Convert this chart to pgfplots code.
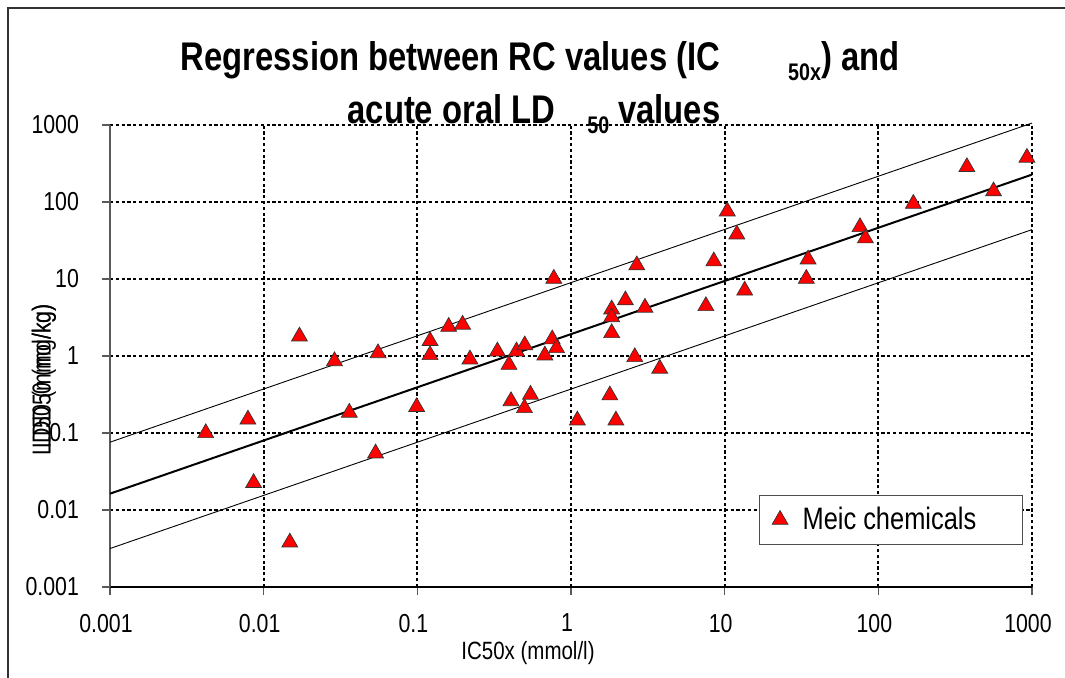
\documentclass[border=0pt]{standalone}
\usepackage{fontspec}
\setmainfont{Liberation Sans}[FakeStretch=0.82]
\usepackage{pgfplots}
\usepackage{pgfplotstable}
\pgfplotsset{compat=1.18}

% IC50x (mmol/l) vs LD50 (mmol/kg)
\pgfplotstableread{
x      y
0.0042 0.100
0.0079 0.150
0.0086 0.0225
0.0148 0.0038
0.0171 1.80
0.0289 0.86
0.0361 0.184
0.0535 0.0545
0.0555 1.09
0.099  0.218
0.121  1.57
0.121  1.03
0.160  2.40
0.197  2.56
0.220  0.906
0.332  1.15
0.395  0.77
0.407  0.26
0.442  1.15
0.498  0.211
0.500  1.38
0.545  0.315
0.676  1.02
0.755  1.65
0.773  10.1
0.805  1.27
1.10   0.146
1.79   0.309
1.84   4.04
1.84   3.2
1.84   1.99
1.96   0.146
2.26   5.3
2.60   0.97
2.68   15.1
3.03   4.25
3.78   0.686
7.55   4.46
8.5    17
10.4   75.7
12.0   38
13.5   7.1
34     10.1
34.9   18
76     47.3
82.4   33.8
169    95
377    285
562    138
927    377
}\meic

\begin{document}
\begin{tikzpicture}
\useasboundingbox (-55pt,-45pt) rectangle (477.5pt,293.5pt);
\draw[line width=0.6pt, black!80] (-51pt,-80pt) -- (-51pt,289.5pt) -- (520pt,289.5pt);
\begin{axis}[
    scale only axis,
    width=461pt, height=231pt,
    xmode=log, ymode=log,
    xmin=0.001, xmax=1000, ymin=0.001, ymax=1000,
    xtick={0.001,0.01,0.1,1,10,100,1000},
    xticklabels={0.001,0.01,0.1,1,10,100,1000},
    ytick={0.001,0.01,0.1,1,10,100,1000},
    yticklabels={0.001,0.01,0.1,1,10,100,1000},
    xminorticks=false, yminorticks=false,
    grid=major,
    major grid style={black, line width=0.85pt, dash pattern=on 1.6pt off 1.3pt},
    axis x line*=bottom, axis y line*=left,
    x axis line style={black, line width=0.6pt, -},
    y axis line style={black!65, line width=1pt, -},
    tick align=outside, major tick length=4pt,
    tick style={black!65, line width=0.6pt},
    ticklabel style={font=\fontsize{13}{13}\selectfont},
    xticklabel style={yshift=-6pt, xshift=-2pt},
    yticklabel style={xshift=-8pt},
    clip=false,
    legend style={at={(rel axis cs:0.704,0.091)}, anchor=south west,
      draw=black!70, line width=0.5pt, inner xsep=5pt, inner ysep=4pt,
      font=\fontsize{15.5}{15.5}\selectfont},
    legend image code/.code={\path (0pt,0pt) (14pt,0pt); \draw[#1] plot coordinates {(5pt,0pt)};},
]
\addplot[black, line width=1pt, forget plot] coordinates {(0.001,0.0163) (1000,227)};
\addplot[black, line width=0.45pt, forget plot] coordinates {(0.001,0.076) (1000,1060)};
\addplot[black, line width=0.45pt, forget plot] coordinates {(0.001,0.00316) (1000,43.8)};
\addplot[only marks, mark=triangle*, mark size=4.6pt,
    mark options={fill=red, draw=black!80, line width=0.35pt}] table[x=x, y=y] {\meic};
\addlegendentry{Meic chemicals\hspace*{16pt}}
\end{axis}
\node[anchor=base, font=\bfseries\fontsize{20}{20}\selectfont] at (215pt,258.5pt)
  {Regression between RC values (IC\hspace{34pt}\raisebox{-5pt}{\fontsize{12}{12}\selectfont 50x}) and};
\node[anchor=base, font=\bfseries\fontsize{20}{20}\selectfont] at (212pt,232pt)
  {acute oral LD\hspace{16pt}\raisebox{-5pt}{\fontsize{12}{12}\selectfont 50} values};
\node[rotate=90, anchor=east, font=\fontsize{13}{13}\selectfont] at (-33pt,145pt) {LD50 (mmol/kg)};
\node[rotate=90, anchor=east, font=\fontsize{13}{13}\selectfont] at (-33pt,145pt) {LDD50 (mg/kg)};
\node[font=\fontsize{12.5}{12.5}\selectfont] at (209pt,-33pt) {IC50x (mmol/l)};
\end{tikzpicture}
\end{document}
